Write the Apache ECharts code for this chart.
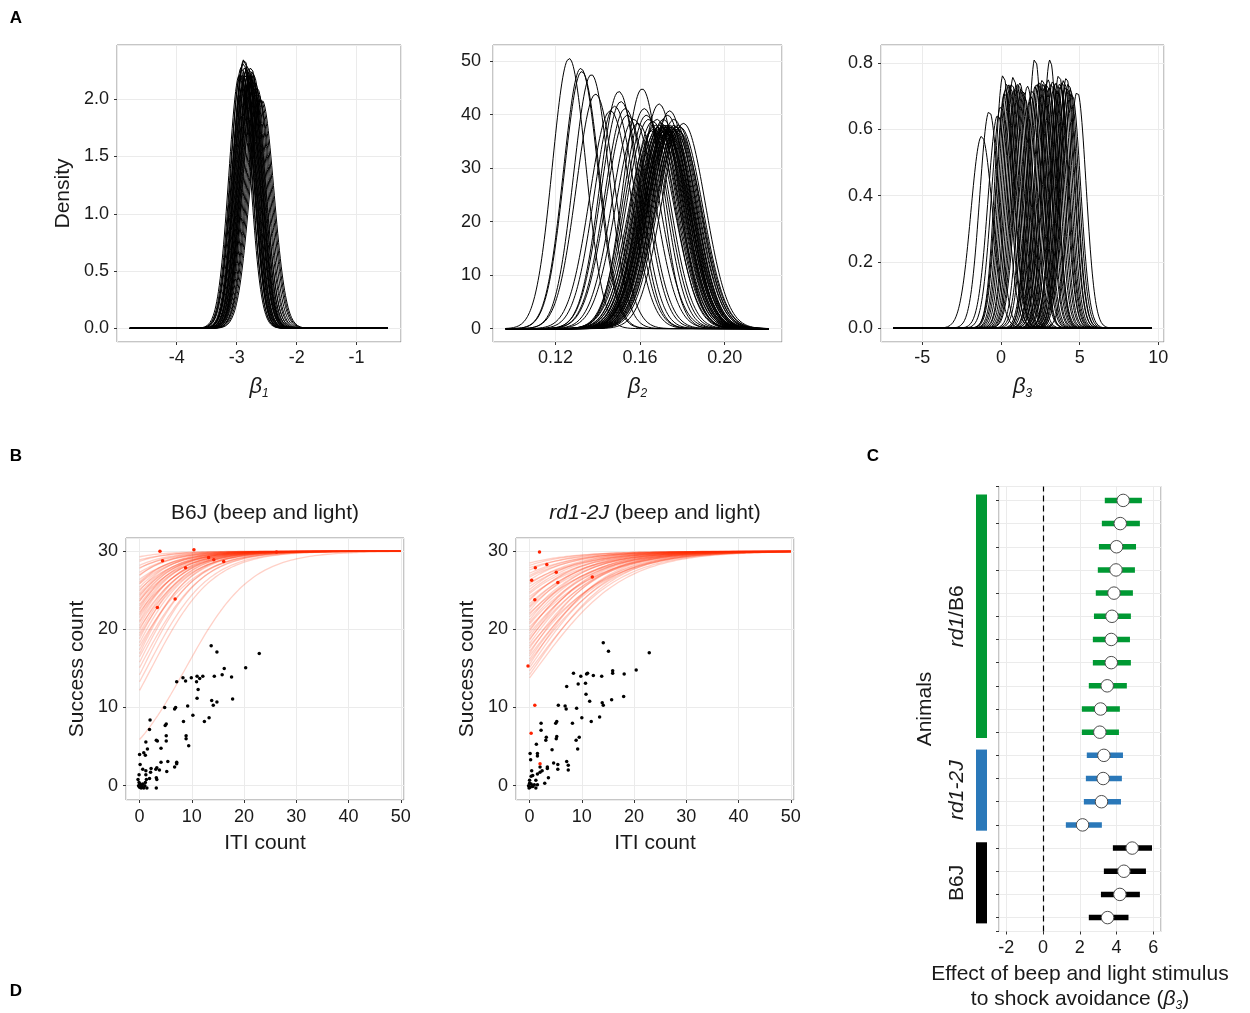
<!DOCTYPE html>
<html><head><meta charset="utf-8">
<script src="https://cdn.jsdelivr.net/npm/echarts@6/dist/echarts.min.js"></script>
<style>html,body{margin:0;padding:0;background:#fff}#c{width:1250px;height:1013px}</style>
</head><body><div id="c"></div>
<script>
// ---------------- DATA ----------------
// Panel A: posterior densities (per-curve location / spread)
const beta1Domain = [-4.78, -0.48];
const beta1Mean = [-2.95,-2.93,-2.92,-2.90,-2.90,-2.89,-2.88,-2.87,-2.86,-2.86,-2.85,-2.84,-2.83,-2.82,-2.81,-2.80,-2.80,-2.79,-2.78,-2.77,-2.76,-2.76,-2.75,-2.74,-2.73,-2.72,-2.71,-2.70,-2.68,-2.66,-2.64,-2.62,-2.60,-2.58];
const beta1Sd = [0.180,0.180,0.175,0.180,0.190,0.172,0.170,0.170,0.175,0.180,0.178,0.180,0.176,0.174,0.180,0.178,0.185,0.176,0.180,0.182,0.180,0.175,0.178,0.180,0.185,0.180,0.190,0.185,0.190,0.190,0.195,0.200,0.200,0.200];

const beta2Domain = [0.0965, 0.2209];
const beta2Mean = [0.1265,0.1320,0.1325,0.1370,0.1390,0.1460,0.1480,0.1500,0.1510,0.1530,0.1540,0.1570,0.1590,0.1610,0.1620,0.1630,0.1640,0.1660,0.1680,0.1690,0.1710,0.1730,0.1740,0.1760,0.1780,0.1805,
  0.1655,0.1665,0.1672,0.1678,0.1684,0.1690,0.1695,0.1700,0.1700,0.1704,0.1708,0.1712,0.1716,0.1718,0.1720,0.1724,0.1725,0.1727,0.1731,0.1735,0.1738,0.1742,0.1745,0.1746,0.1750,0.1755,0.1760,0.1765,0.1770,0.1776,0.1783,0.1790];
const beta2Sd = [0.0079,0.0082,0.0083,0.0084,0.0091,0.0098,0.0096,0.0090,0.0094,0.0097,0.0100,0.0102,0.0104,0.0089,0.0097,0.0100,0.0102,0.0103,0.0102,0.0095,0.0102,0.0100,0.0098,0.0102,0.0105,0.0104,
  0.0108,0.0107,0.0105,0.0108,0.0106,0.0107,0.0105,0.0108,0.0104,0.0106,0.0107,0.0105,0.0108,0.0106,0.0105,0.0107,0.0109,0.0106,0.0105,0.0108,0.0107,0.0105,0.0106,0.0108,0.0106,0.0107,0.0105,0.0108,0.0106,0.0107,0.0108,0.0106];

const beta3Domain = [-6.84, 9.58];
const beta3Mean = [-1.22,-0.74,-0.20,0.00,0.15,0.25,0.30,0.40,0.50,0.60,0.70,0.80,0.90,1.00,1.10,1.20,1.30,1.40,1.50,1.69,1.90,2.00,2.17,2.20,2.30,2.40,2.50,2.64,2.70,2.80,2.90,3.00,3.05,3.12,3.20,3.30,3.40,3.50,3.60,3.69,3.75,3.80,3.90,4.00,4.10,4.16,4.25,4.30,4.40,4.50,4.85];
const beta3Sd = [0.688,0.609,0.620,0.595,0.521,0.560,0.554,0.539,0.543,0.546,0.539,0.525,0.550,0.543,0.539,0.539,0.550,0.554,0.570,0.546,0.570,0.554,0.489,0.545,0.539,0.539,0.535,0.532,0.539,0.546,0.539,0.532,0.550,0.492,0.539,0.535,0.546,0.539,0.554,0.521,0.540,0.546,0.535,0.532,0.546,0.528,0.550,0.539,0.554,0.562,0.558];

// Panel B: fitted success curves (count at ITI=0 and slope), 30 trials
const nTrials = 30;
const itiMax = 50;
const b6jStart = [29.3,28.9,28.7,28.2,27.9,27.8,27.3,27.0,26.9,26.4,26.1,25.9,25.8,25.4,25.1,24.9,24.6,24.4,24.2,23.9,23.7,23.6,23.2,23.0,22.7,22.5,22.2,22.0,21.8,21.5,21.1,20.9,20.5,20.2,19.9,19.5,19.2,18.8,18.3,17.9,17.4,16.9,16.5,15.8,15.1,14.2,13.3,12.2,5.9];
const b6jSlope = [0.19,0.17,0.20,0.18,0.16,0.19,0.17,0.18,0.20,0.16,0.18,0.19,0.17,0.18,0.16,0.20,0.18,0.17,0.19,0.18,0.16,0.19,0.18,0.17,0.20,0.18,0.16,0.19,0.17,0.18,0.19,0.17,0.18,0.16,0.19,0.18,0.17,0.19,0.18,0.16,0.18,0.19,0.17,0.18,0.17,0.18,0.17,0.17,0.16];
const rd1Start = [28.5,28.2,27.9,27.6,27.2,26.9,26.7,26.3,26.0,25.8,25.5,25.1,24.8,24.6,24.2,23.9,23.7,23.3,23.0,22.8,22.4,22.1,21.9,21.6,21.2,20.9,20.7,20.3,20.0,19.8,19.5,19.1,18.8,18.6,18.2,17.9,17.6,17.2,16.9,16.6,16.2,15.9,15.5,15.1,14.7,14.2,13.8];
const rd1Slope = [0.12,0.13,0.11,0.14,0.12,0.13,0.12,0.14,0.11,0.13,0.12,0.14,0.13,0.12,0.11,0.13,0.14,0.12,0.13,0.12,0.14,0.11,0.13,0.12,0.14,0.13,0.12,0.11,0.13,0.14,0.12,0.13,0.12,0.14,0.13,0.11,0.13,0.12,0.14,0.12,0.13,0.12,0.14,0.13,0.12,0.13,0.12];

// observed sessions [ITI count, success count]
const b6jBlack = [[22.9,16.9],[20.3,15.1],[13.7,17.9],[14.8,17.1],[16.2,15.0],[15.8,14.2],[17.6,13.9],[17.8,11.1],[14.3,14.0],[12.1,14.0],[11.0,14.0],[11.5,13.7],[10.9,13.3],[11.2,12.3],[11.0,11.2],[9.9,13.8],[8.3,13.8],[8.8,13.4],[7.1,13.3],[13.8,10.9],[14.1,10.3],[14.8,10.7],[12.4,8.2],[13.3,8.7],[10.2,9.0],[9.2,10.2],[8.4,8.2],[6.9,10.0],[6.7,9.8],[4.8,10.0],[5.1,7.9],[4.9,7.7],[2.0,8.4],[1.9,7.2],[5.1,6.4],[5.1,5.7],[3.2,5.8],[3.4,5.7],[8.9,6.4],[8.9,6.0],[9.4,5.1],[4.1,4.8],[1.5,4.7],[1.2,5.6],[0.8,4.2],[1.1,3.9],[0.0,4.0],[0.1,2.7],[0.6,2.1],[2.2,2.2],[2.1,1.7],[3.8,2.0],[3.1,2.1],[3.3,2.3],[5.4,3.1],[4.1,3.0],[7.1,3.0],[7.1,2.8],[6.7,2.4],[5.2,1.8],[3.2,1.0],[3.3,0.8],[3.2,-0.3],[1.2,1.9],[1.2,1.4],[1.3,0.8],[-0.1,1.4],[-0.3,0.8],[-0.1,0.4],[0.1,0.1],[0.4,0.0],[0.3,-0.3],[0.8,-0.3],[1.4,-0.3],[0.0,-0.2],[0.1,0.2],[1.1,0.4],[1.9,0.9],[-0.2,0.0],[0.2,-0.1],[0.6,0.2],[1.0,0.0],[0.5,-0.2]];
const b6jRed = [[3.9,30.0],[10.4,30.2],[4.4,28.8],[13.2,29.2],[14.2,28.9],[16.1,28.7],[8.8,27.9],[6.8,23.9],[3.4,22.8],[26.2,29.9]];
const rd1Black = [[22.9,17.0],[20.4,14.8],[14.1,18.3],[15.1,17.2],[15.9,14.7],[15.9,14.4],[18.1,14.3],[18.0,11.4],[15.7,11.0],[13.9,10.6],[14.1,10.3],[13.8,14.0],[12.2,14.1],[11.1,14.4],[10.9,14.3],[9.8,14.0],[8.4,14.4],[9.3,13.0],[7.1,12.7],[10.7,13.1],[10.8,11.7],[11.5,10.8],[11.8,8.2],[13.4,8.8],[10.0,8.7],[9.0,9.9],[8.2,8.0],[6.8,10.2],[7.0,9.8],[5.5,10.3],[5.2,8.2],[5.0,8.0],[2.2,8.0],[2.2,7.1],[5.2,6.3],[5.1,6.0],[3.2,6.2],[3.1,5.8],[9.5,6.2],[8.9,5.8],[9.2,4.7],[4.3,4.6],[1.5,4.1],[1.3,5.3],[1.5,3.8],[0.1,4.1],[0.2,3.3],[0.4,1.9],[2.0,2.4],[2.4,1.9],[3.4,2.2],[3.4,2.4],[4.6,2.9],[5.4,2.7],[5.4,2.1],[7.1,3.1],[7.4,2.6],[7.4,2.0],[3.6,1.0],[2.9,0.3],[2.0,1.7],[1.5,1.5],[1.2,0.7],[0.6,1.3],[0.3,1.2],[0.0,0.7],[-0.2,0.0],[0.1,-0.2],[0.3,0.2],[0.6,-0.1],[0.9,0.1],[1.2,-0.3],[1.5,0.1],[0.0,0.3],[-0.1,-0.3],[0.5,0.0]];
const rd1Red = [[1.9,29.9],[3.3,28.3],[1.1,27.9],[5.1,27.3],[0.4,26.3],[5.4,26.0],[12.0,26.7],[1.0,23.8],[-0.3,15.3],[1.0,10.3],[0.3,6.7],[2.0,2.8]];

// Panel C: per-animal beta3 estimate and interval (top row first)
const cAnimalGroup = [0,0,0,0,0,0,0,0,0,0,0,1,1,1,1,2,2,2,2];
const cMean = [4.36,4.20,4.00,3.97,3.86,3.75,3.71,3.71,3.49,3.13,3.09,3.31,3.27,3.18,2.15,4.85,4.40,4.18,3.51];
const cLo   = [3.36,3.20,3.04,2.98,2.87,2.77,2.71,2.71,2.49,2.11,2.11,2.38,2.33,2.22,1.24,3.80,3.31,3.15,2.49];
const cHi   = [5.38,5.27,5.06,5.00,4.89,4.78,4.73,4.78,4.56,4.18,4.13,4.35,4.29,4.24,3.20,5.93,5.60,5.27,4.65];
const cGroupLabels = ['{i|rd1}/B6', '{i|rd1-2J}', 'B6J'];

// ---------------- STYLE ----------------
const FONT = '"Liberation Sans", Arial, sans-serif';
const TXT = '#1a1a1a';
const groupColors = ['#009933', '#2a78b9', '#000000'];
const redLine = 'rgba(255,45,0,0.22)';
const redPoint = '#ff2200';

function gridBox(left, top, width, height) {
  return {left, top, width, height, show: true, borderColor: '#8c8c8c', borderWidth: 1, backgroundColor: 'transparent', containLabel: false, outerBoundsMode: 'none'};
}
function vAxis(o, labelExtra) {
  const base = {
    type: 'value',
    axisLine: {show: false, onZero: false},
    axisTick: {show: true, length: 3, lineStyle: {color: '#333', width: 1}},
    axisLabel: Object.assign({margin: 7, showMinLabel: false, showMaxLabel: false, color: TXT, fontSize: 18, fontFamily: FONT}, labelExtra || {}),
    splitLine: {show: true, lineStyle: {color: '#ebebeb', width: 1}},
    nameLocation: 'middle',
    nameTextStyle: {color: TXT, fontSize: 21, fontFamily: FONT}
  };
  return Object.assign(base, o);
}
const betaRich = {
  b: {fontSize: 22, fontStyle: 'italic', fontFamily: FONT, color: TXT, lineHeight: 26},
  s: {fontSize: 12, fontStyle: 'italic', fontFamily: FONT, color: TXT, verticalAlign: 'bottom', lineHeight: 12}
};

// ---------------- SERIES BUILDERS ----------------
function densitySeries(means, sds, domain, n, axisIdx) {
  const out = [];
  for (let k = 0; k < means.length; k++) {
    const m = means[k], s = sds[k], pts = [];
    for (let j = 0; j <= n; j++) {
      const x = domain[0] + (domain[1] - domain[0]) * j / n;
      const z = (x - m) / s;
      pts.push([x, Math.exp(-0.5 * z * z) / (s * Math.sqrt(2 * Math.PI))]);
    }
    out.push({type: 'line', xAxisIndex: axisIdx, yAxisIndex: axisIdx, data: pts, symbol: 'none', showSymbol: false,
      lineStyle: {color: '#000', width: 1}, silent: true, z: 2});
  }
  return out;
}
function curveSeries(starts, slopes, axisIdx) {
  const out = [];
  for (let k = 0; k < starts.length; k++) {
    const p0 = starts[k] / nTrials, a = Math.log(p0 / (1 - p0)), b = slopes[k], pts = [];
    for (let x = 0; x <= itiMax; x += 0.5) pts.push([x, nTrials / (1 + Math.exp(-(a + b * x)))]);
    out.push({type: 'line', xAxisIndex: axisIdx, yAxisIndex: axisIdx, data: pts, symbol: 'none', showSymbol: false,
      lineStyle: {color: redLine, width: 1.3}, silent: true, z: 2});
  }
  return out;
}
function pointSeries(data, color, axisIdx) {
  return {type: 'scatter', xAxisIndex: axisIdx, yAxisIndex: axisIdx, data, symbol: 'circle', symbolSize: 3.5,
    itemStyle: {color, opacity: 1}, silent: true, z: 4};
}

const nRows = cMean.length;
const forestBars = cMean.map((m, i) => [cLo[i], cHi[i], nRows - i, cAnimalGroup[i]]);
const forestDots = cMean.map((m, i) => [m, nRows - i]);
const groupSpans = cGroupLabels.map((g, gi) => {
  const ys = cAnimalGroup.map((gg, i) => gg === gi ? nRows - i : null).filter(v => v !== null);
  return [Math.min(...ys) - 0.25, Math.max(...ys) + 0.25, gi];
});

// ---------------- OPTION ----------------
const option = {
  animation: false,
  backgroundColor: '#fff',
  grid: [
    gridBox(117, 45, 284, 297),
    gridBox(493, 45, 289, 297),
    gridBox(881, 45, 283, 297),
    gridBox(126, 538, 278, 262),
    gridBox(516, 538, 278, 262),
    gridBox(999, 486.5, 162, 445),
    Object.assign(gridBox(976, 486.5, 11, 445), {show: false})
  ],
  xAxis: [
    vAxis({gridIndex: 0, min: -4.995, max: -0.26, splitNumber: 5, name: '{b|β}{s|1}', nameGap: 32, nameTextStyle: {rich: betaRich}}),
    vAxis({gridIndex: 1, min: 0.0905, max: 0.2271, minInterval: 0.04, maxInterval: 0.04, name: '{b|β}{s|2}', nameGap: 32, nameTextStyle: {rich: betaRich}},
      {formatter: v => v.toFixed(2)}),
    vAxis({gridIndex: 2, min: -7.62, max: 10.36, splitNumber: 4, name: '{b|β}{s|3}', nameGap: 32, nameTextStyle: {rich: betaRich}}),
    vAxis({gridIndex: 3, min: -2.6, max: 50.6, splitNumber: 5, name: 'ITI count', nameGap: 33}, {margin: 8}),
    vAxis({gridIndex: 4, min: -2.6, max: 50.6, splitNumber: 5, name: 'ITI count', nameGap: 33}, {margin: 8}),
    vAxis({gridIndex: 5, min: -2.4, max: 6.42, splitNumber: 4,
      name: 'Effect of beep and light stimulus\nto shock avoidance ({b|β}{s|3})', nameGap: 30,
      nameTextStyle: {color: TXT, fontSize: 21, fontFamily: FONT, lineHeight: 25,
        rich: {b: {fontSize: 21, fontStyle: 'italic', fontFamily: FONT, color: TXT, lineHeight: 25},
               s: {fontSize: 12, fontStyle: 'italic', fontFamily: FONT, color: TXT, verticalAlign: 'bottom', lineHeight: 12}}}},
      {margin: 8}),
    {type: 'value', gridIndex: 6, min: 0, max: 1, show: false}
  ],
  yAxis: [
    vAxis({gridIndex: 0, min: -0.12, max: 2.474, splitNumber: 5, name: 'Density', nameGap: 43}, {margin: 8, formatter: v => v.toFixed(1)}),
    vAxis({gridIndex: 1, min: -2.5, max: 53, splitNumber: 5}, {margin: 12}),
    vAxis({gridIndex: 2, min: -0.042, max: 0.855, splitNumber: 5}, {margin: 8, formatter: v => v.toFixed(1)}),
    vAxis({gridIndex: 3, min: -1.84, max: 31.7, splitNumber: 3, name: 'Success count', nameGap: 38}, {margin: 8}),
    vAxis({gridIndex: 4, min: -1.84, max: 31.7, splitNumber: 3, name: 'Success count', nameGap: 38}, {margin: 8}),
    vAxis({gridIndex: 5, min: 0.4, max: 19.6, minInterval: 1, maxInterval: 1}, {show: false}),
    {type: 'value', gridIndex: 6, min: 0.4, max: 19.6, axisLine: {show: false, onZero: false}, axisTick: {show: false}, axisLabel: {show: false},
      splitLine: {show: false}, name: 'Animals', nameLocation: 'middle', nameGap: 40,
      nameTextStyle: {color: TXT, fontSize: 21, fontFamily: FONT}}
  ],
  graphic: [
    {type: 'text', x: 16, y: 18, style: {text: 'A', font: 'bold 17px "Liberation Sans", Arial', fill: '#000', align: 'center', verticalAlign: 'middle'}},
    {type: 'text', x: 16, y: 456, style: {text: 'B', font: 'bold 17px "Liberation Sans", Arial', fill: '#000', align: 'center', verticalAlign: 'middle'}},
    {type: 'text', x: 873, y: 456, style: {text: 'C', font: 'bold 17px "Liberation Sans", Arial', fill: '#000', align: 'center', verticalAlign: 'middle'}},
    {type: 'text', x: 16, y: 991, style: {text: 'D', font: 'bold 17px "Liberation Sans", Arial', fill: '#000', align: 'center', verticalAlign: 'middle'}},
    {type: 'text', x: 265, y: 513, style: {text: 'B6J (beep and light)', fontSize: 21, fontFamily: FONT, fill: TXT, align: 'center', verticalAlign: 'middle'}},
    {type: 'text', x: 655, y: 513, style: {text: '{i|rd1-2J} (beep and light)', fontSize: 21, fontFamily: FONT, fill: TXT, align: 'center', verticalAlign: 'middle',
      rich: {i: {fontSize: 21, fontFamily: FONT, fontStyle: 'italic', color: TXT}}}}
  ],
  series: [].concat(
    densitySeries(beta1Mean, beta1Sd, beta1Domain, 300, 0),
    densitySeries(beta2Mean, beta2Sd, beta2Domain, 300, 1),
    densitySeries(beta3Mean, beta3Sd, beta3Domain, 400, 2),
    curveSeries(b6jStart, b6jSlope, 3),
    curveSeries(rd1Start, rd1Slope, 4),
    [pointSeries(b6jBlack, '#000', 3), pointSeries(b6jRed, redPoint, 3),
     pointSeries(rd1Black, '#000', 4), pointSeries(rd1Red, redPoint, 4),
     {type: 'custom', xAxisIndex: 5, yAxisIndex: 5, data: forestBars, encode: {x: [0, 1], y: 2}, z: 3, silent: true,
      renderItem: (params, api) => {
        const p1 = api.coord([api.value(0), api.value(2)]);
        const p2 = api.coord([api.value(1), api.value(2)]);
        return {type: 'rect', shape: {x: p1[0], y: p1[1] - 2.75, width: p2[0] - p1[0], height: 5.5},
          style: {fill: groupColors[api.value(3)]}};
      }},
     {type: 'scatter', xAxisIndex: 5, yAxisIndex: 5, data: forestDots, symbol: 'circle', symbolSize: 12.5, z: 5, silent: true,
      itemStyle: {color: '#ffffff', opacity: 1, borderColor: '#4d4d4d', borderWidth: 1},
      markLine: {silent: true, symbol: 'none', label: {show: false},
        lineStyle: {color: '#000', type: [6, 4], width: 1.2, opacity: 1}, data: [{xAxis: 0}]}},
     {type: 'custom', xAxisIndex: 6, yAxisIndex: 6, data: groupSpans, encode: {y: [0, 1]}, silent: true,
      renderItem: (params, api) => {
        const lo = api.coord([0, api.value(0)]);
        const hi = api.coord([1, api.value(1)]);
        const gi = api.value(2);
        return {type: 'group', children: [
          {type: 'rect', shape: {x: lo[0], y: hi[1], width: hi[0] - lo[0], height: lo[1] - hi[1]}, style: {fill: groupColors[gi]}},
          {type: 'text', x: lo[0] - 19, y: (lo[1] + hi[1]) / 2, rotation: Math.PI / 2,
            style: {text: cGroupLabels[gi], fontSize: 21, fontFamily: FONT, fill: TXT, align: 'center', verticalAlign: 'middle',
              rich: {i: {fontSize: 21, fontFamily: FONT, fontStyle: 'italic', color: TXT}}}}
        ]};
      }}]
  )
};
const chart = echarts.init(document.getElementById('c'), null, {renderer: 'canvas'});
chart.setOption(option);
</script></body></html>
